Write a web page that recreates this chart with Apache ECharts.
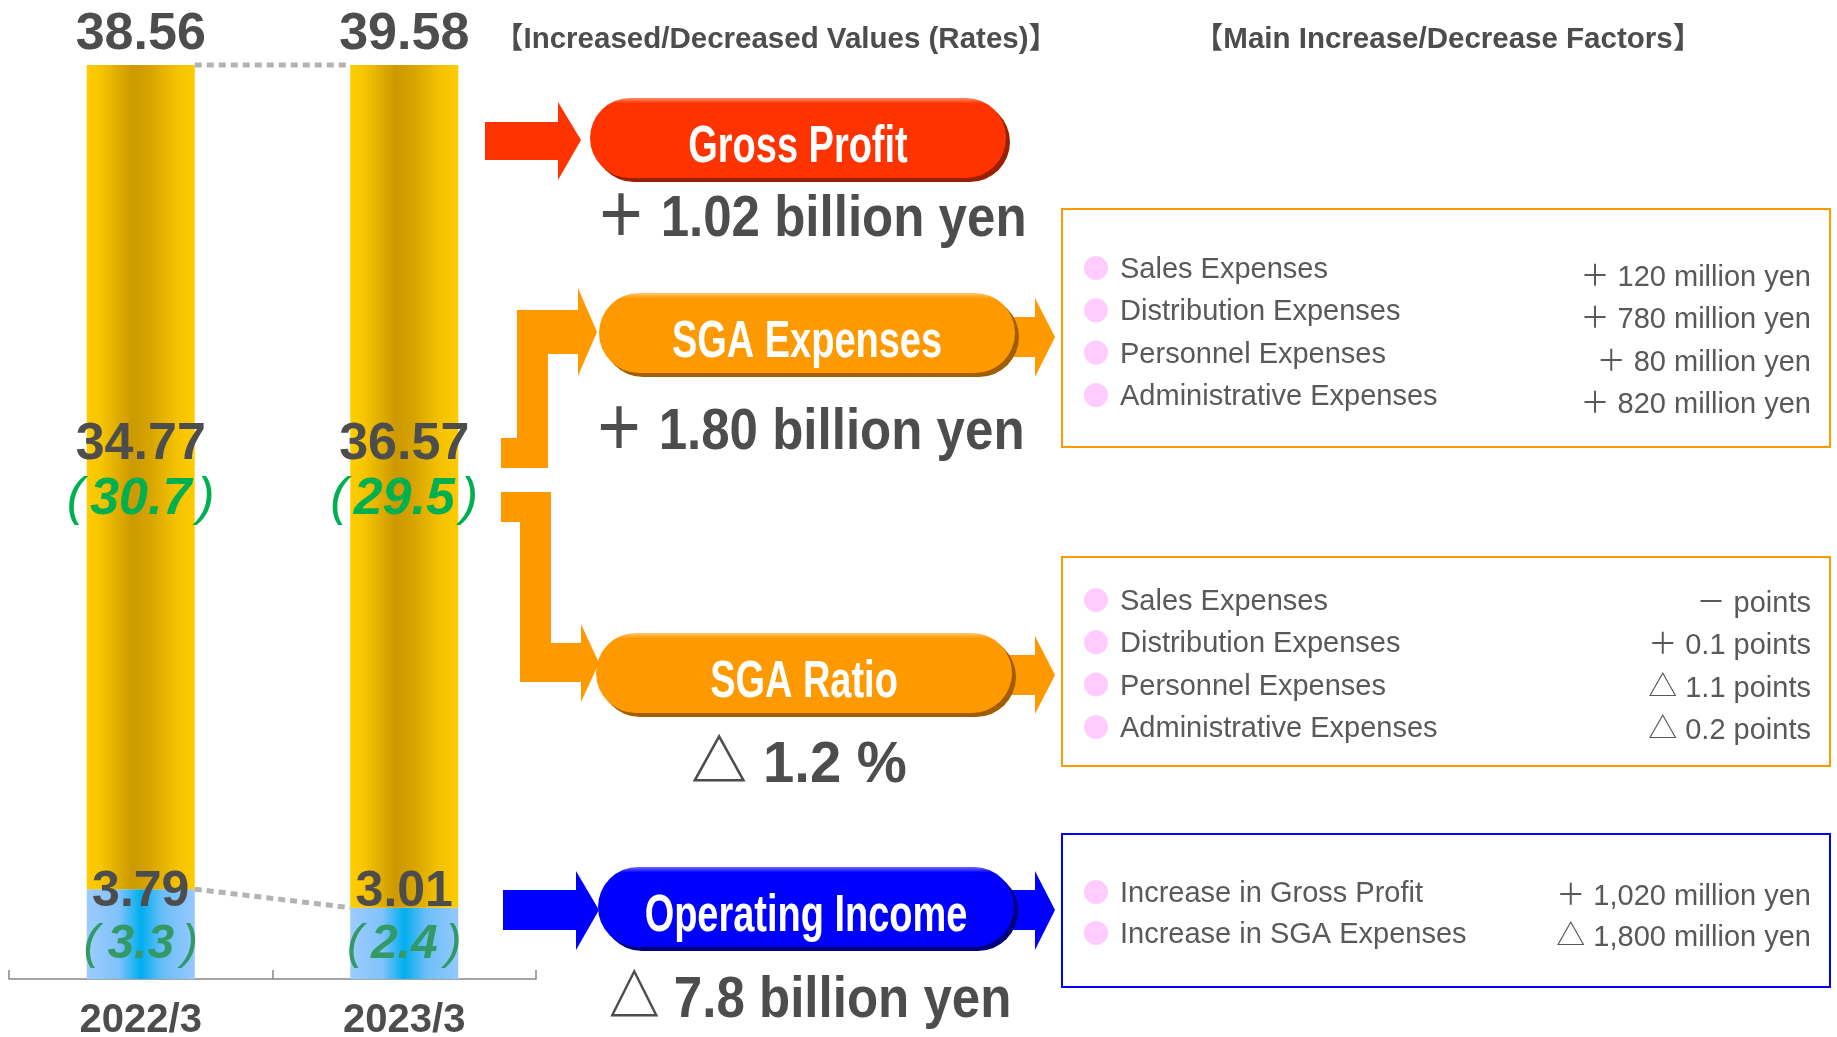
<!DOCTYPE html>
<html>
<head>
<meta charset="utf-8">
<script src="https://cdn.jsdelivr.net/npm/echarts@6.0.0/dist/echarts.min.js"></script>
<style>
  html, body { margin: 0; padding: 0; background: #fff; }
  #main { width: 1837px; height: 1037px; }
</style>
</head>
<body>
<div id="main"></div>
<script>
// bar chart data (100 million yen / %)
var years = ['2022/3', '2023/3'];
var opIncome = [3.79, 3.01];
var sgaExp = [34.77, 36.57];
var grossProfit = [38.56, 39.58];
var opRate = [3.3, 2.4];
var sgaRate = [30.7, 29.5];

// flow diagram texts
var flowNames = ['Gross Profit', 'SGA Expenses', 'SGA Ratio', 'Operating Income'];
var flowChanges = ['＋ 1.02 billion yen', '＋ 1.80 billion yen', '△ 1.2 %', '△ 7.8 billion yen'];
var headers = ['【Increased/Decreased Values (Rates)】', '【Main Increase/Decrease Factors】'];
var sgaFactorNames = ['Sales Expenses', 'Distribution Expenses', 'Personnel Expenses', 'Administrative Expenses'];
var sgaFactorValues = ['＋ 120 million yen', '＋ 780 million yen', '＋ 80 million yen', '＋ 820 million yen'];
var ratioFactorValues = ['－ points', '＋ 0.1 points', '△ 1.1 points', '△ 0.2 points'];
var opFactorNames = ['Increase in Gross Profit', 'Increase in SGA Expenses'];
var opFactorValues = ['＋ 1,020 million yen', '△ 1,800 million yen'];

var gray = '#4d4d4d';
var boxGray = '#595959';
var font = '"Liberation Sans", "Noto Sans CJK JP", sans-serif';
var yMax = grossProfit[0];
var barW = 0.41;

var chart = echarts.init(document.getElementById('main'));

var yellowGrad = {
  type: 'linear', x: 0, y: 0, x2: 1, y2: 0,
  colorStops: [
    { offset: 0, color: '#FFCC00' },
    { offset: 0.12, color: '#F8C600' },
    { offset: 0.42, color: '#CC9900' },
    { offset: 0.58, color: '#D6A300' },
    { offset: 0.82, color: '#F3C100' },
    { offset: 1, color: '#FFCC00' }
  ]
};
var blueGrad = {
  type: 'linear', x: 0, y: 0, x2: 1, y2: 0,
  colorStops: [
    { offset: 0, color: '#9DCCFF' },
    { offset: 0.3, color: '#7FC2FA' },
    { offset: 0.5, color: '#00AEEF' },
    { offset: 0.7, color: '#6ABEF8' },
    { offset: 1, color: '#95C9FF' }
  ]
};

/** total labels above bars */
function renderTotal(params, api) {
  var v = api.value(1);
  var pt = api.coord([api.value(0), Math.min(v, yMax)]);
  return {
    type: 'text',
    x: pt[0], y: pt[1] - 4,
    style: {
      text: v.toFixed(2), fill: gray, fontSize: 52, fontWeight: 'bold', fontFamily: font,
      align: 'center', verticalAlign: 'bottom'
    }
  };
}

/** dotted connectors between bars */
function renderLink(params, api) {
  var half = api.size([1, 0])[0] * barW / 2;
  var p0 = api.coord([api.value(0), Math.min(api.value(1), yMax)]);
  var p1 = api.coord([api.value(2), Math.min(api.value(3), yMax)]);
  return {
    type: 'line',
    shape: { x1: p0[0] + half, y1: p0[1], x2: p1[0] - half, y2: p1[1] },
    style: { stroke: '#b3b3b3', lineWidth: 5, lineDash: [7, 5] }
  };
}

function arrow(points, color) {
  return { type: 'polygon', shape: { points: points }, style: { fill: color } };
}

function pill(x, y, color, dark, light, name) {
  var w = 416, h = 80;
  return [
    { type: 'rect', shape: { x: x + 4, y: y + 4, width: w, height: h, r: h / 2 }, style: { fill: dark } },
    { type: 'rect', shape: { x: x, y: y, width: w, height: h, r: h / 2 },
      style: { fill: { type: 'linear', x: 0, y: 0, x2: 0, y2: 1,
        colorStops: [{ offset: 0, color: light }, { offset: 0.07, color: color }, { offset: 1, color: color }] } } },
    { type: 'text', x: x + w / 2, y: y + h / 2 + 10, scaleX: 0.73,
      style: { text: name, fill: '#fff', fontSize: 52, fontWeight: 'bold', fontFamily: font, align: 'center', verticalAlign: 'middle' } }
  ];
}

function bigText(text, x, y, sx) {
  return { type: 'text', x: x, y: y, scaleX: sx,
    style: { text: text, fill: gray, fontSize: 58, fontWeight: 'bold', fontFamily: font, align: 'center', verticalAlign: 'middle' } };
}

function factorBox(y, h, stroke, names, values, labelY, valueY, step) {
  var els = [{ type: 'rect', shape: { x: 1062, y: y, width: 768, height: h },
    style: { fill: 'none', stroke: stroke, lineWidth: 2 } }];
  names.forEach(function (n, i) {
    els.push({ type: 'circle', shape: { cx: 1096, cy: labelY + step * i, r: 12 }, style: { fill: '#FFCCFF' } });
    els.push({ type: 'text', x: 1120, y: labelY + 2 + step * i,
      style: { text: n, fill: boxGray, fontSize: 29, fontFamily: font, align: 'left', verticalAlign: 'middle' } });
    els.push({ type: 'text', x: 1811, y: valueY + 2 + step * i,
      style: { text: values[i], fill: boxGray, fontSize: 29, fontFamily: font, align: 'right', verticalAlign: 'middle' } });
  });
  return els;
}

var graphics = [];
headers.forEach(function (t, i) {
  graphics.push({ type: 'text', x: [776, 1448][i], y: 40,
    style: { text: t, fill: gray, fontSize: 29.5, fontWeight: 'bold', fontFamily: font, align: 'center', verticalAlign: 'middle' } });
});
// arrows
graphics.push(arrow([[485, 122], [558, 122], [558, 102], [581, 140], [558, 180], [558, 160], [485, 160]], '#FF3300'));
graphics.push(arrow([[501, 438], [517, 438], [517, 310], [578, 310], [578, 288], [597, 332], [578, 376], [578, 354], [548, 354], [548, 468], [501, 468]], '#FF9900'));
graphics.push(arrow([[501, 492], [551, 492], [551, 643], [581, 643], [581, 624], [599, 663], [581, 702], [581, 682], [520, 682], [520, 522], [501, 522]], '#FF9900'));
graphics.push(arrow([[503, 890], [576, 890], [576, 871], [599, 910], [576, 950], [576, 930], [503, 930]], '#0000FF'));
graphics.push(arrow([[1000, 317], [1035, 317], [1035, 298], [1055, 337], [1035, 377], [1035, 357], [1000, 357]], '#FF9900'));
graphics.push(arrow([[1000, 655], [1035, 655], [1035, 636], [1055, 675], [1035, 714], [1035, 695], [1000, 695]], '#FF9900'));
graphics.push(arrow([[1000, 890], [1035, 890], [1035, 871], [1055, 910], [1035, 950], [1035, 930], [1000, 930]], '#0000FF'));
// pills
graphics = graphics.concat(pill(590, 98, '#FF3300', '#992000', '#FF8A66', flowNames[0]));
graphics = graphics.concat(pill(599, 293, '#FF9900', '#A05E00', '#FFC870', flowNames[1]));
graphics = graphics.concat(pill(596, 633, '#FF9900', '#A05E00', '#FFC870', flowNames[2]));
graphics = graphics.concat(pill(598, 867, '#0000FF', '#00007A', '#6A6AFF', flowNames[3]));
// change values
graphics.push(bigText(flowChanges[0], 811, 220, 0.88));
graphics.push(bigText(flowChanges[1], 809, 433, 0.88));
graphics.push(bigText(flowChanges[2], 799, 766, 0.97));
graphics.push(bigText(flowChanges[3], 810, 1001, 0.88));
// factor boxes
graphics = graphics.concat(factorBox(209, 238, '#FF9900', sgaFactorNames, sgaFactorValues, 268, 276, 42.3));
graphics = graphics.concat(factorBox(557, 209, '#FF9900', sgaFactorNames, ratioFactorValues, 600, 602, 42.3));
graphics = graphics.concat(factorBox(834, 153, '#0000FF', opFactorNames, opFactorValues, 892, 895, 41));

var option = {
  animation: false,
  backgroundColor: '#fff',
  grid: { left: 9, width: 527, top: 65, height: 914, containLabel: false, outerBoundsMode: 'none' },
  xAxis: {
    type: 'category',
    data: years,
    boundaryGap: true,
    axisLine: { show: true, lineStyle: { color: '#888', width: 1.5 } },
    axisTick: { show: true, inside: true, length: 9, lineStyle: { color: '#888', width: 1.5 } },
    axisLabel: { margin: 22, fontSize: 40, fontWeight: 'bold', color: gray, fontFamily: font },
    splitLine: { show: false }
  },
  yAxis: { type: 'value', min: 0, max: yMax, show: false, splitLine: { show: false } },
  series: [{
    name: 'Operating Income',
    type: 'bar',
    stack: 'total',
    clip: true,
    barWidth: (barW * 100) + '%',
    data: opIncome,
    itemStyle: { color: blueGrad },
    label: {
      show: true,
      position: 'insideBottom',
      distance: 8,
      formatter: function (p) {
        return '{v|' + p.value.toFixed(2) + '}\n{p|(}{r|' + opRate[p.dataIndex].toFixed(1) + '}{p|)}';
      },
      rich: {
        v: { fontSize: 50, fontWeight: 'bold', color: gray, fontFamily: font, lineHeight: 54 },
        r: { fontSize: 48, fontStyle: 'italic', fontWeight: 'bold', color: '#339966', fontFamily: font, lineHeight: 52 },
        p: { fontSize: 48, fontStyle: 'italic', color: '#339966', fontFamily: font, lineHeight: 52, padding: [0, 8] }
      }
    }
  }, {
    name: 'SGA Expenses',
    type: 'bar',
    stack: 'total',
    clip: true,
    data: sgaExp,
    itemStyle: { color: yellowGrad },
    label: {
      show: true,
      position: ['50%', 352],
      align: 'center',
      verticalAlign: 'top',
      formatter: function (p) {
        return '{v|' + p.value.toFixed(2) + '}\n{p|(}{r|' + sgaRate[p.dataIndex].toFixed(1) + '}{p|)}';
      },
      rich: {
        v: { fontSize: 52, fontWeight: 'bold', color: gray, fontFamily: font, lineHeight: 56 },
        r: { fontSize: 52, fontStyle: 'italic', fontWeight: 'bold', color: '#00B050', fontFamily: font, lineHeight: 54 },
        p: { fontSize: 52, fontStyle: 'italic', color: '#00B050', fontFamily: font, lineHeight: 54, padding: [0, 6] }
      }
    }
  }, {
    name: 'Gross Profit',
    type: 'custom',
    clip: false,
    renderItem: renderTotal,
    encode: { x: 0, y: 1 },
    data: grossProfit.map(function (v, i) { return [i, v]; }),
    z: 5
  }, {
    name: 'links',
    type: 'custom',
    clip: false,
    renderItem: renderLink,
    encode: { x: [0, 2], y: [1, 3] },
    data: [[0, grossProfit[0], 1, grossProfit[1]], [0, opIncome[0], 1, opIncome[1]]],
    z: 4
  }],
  graphic: { elements: graphics }
};
chart.setOption(option);
</script>
</body>
</html>
